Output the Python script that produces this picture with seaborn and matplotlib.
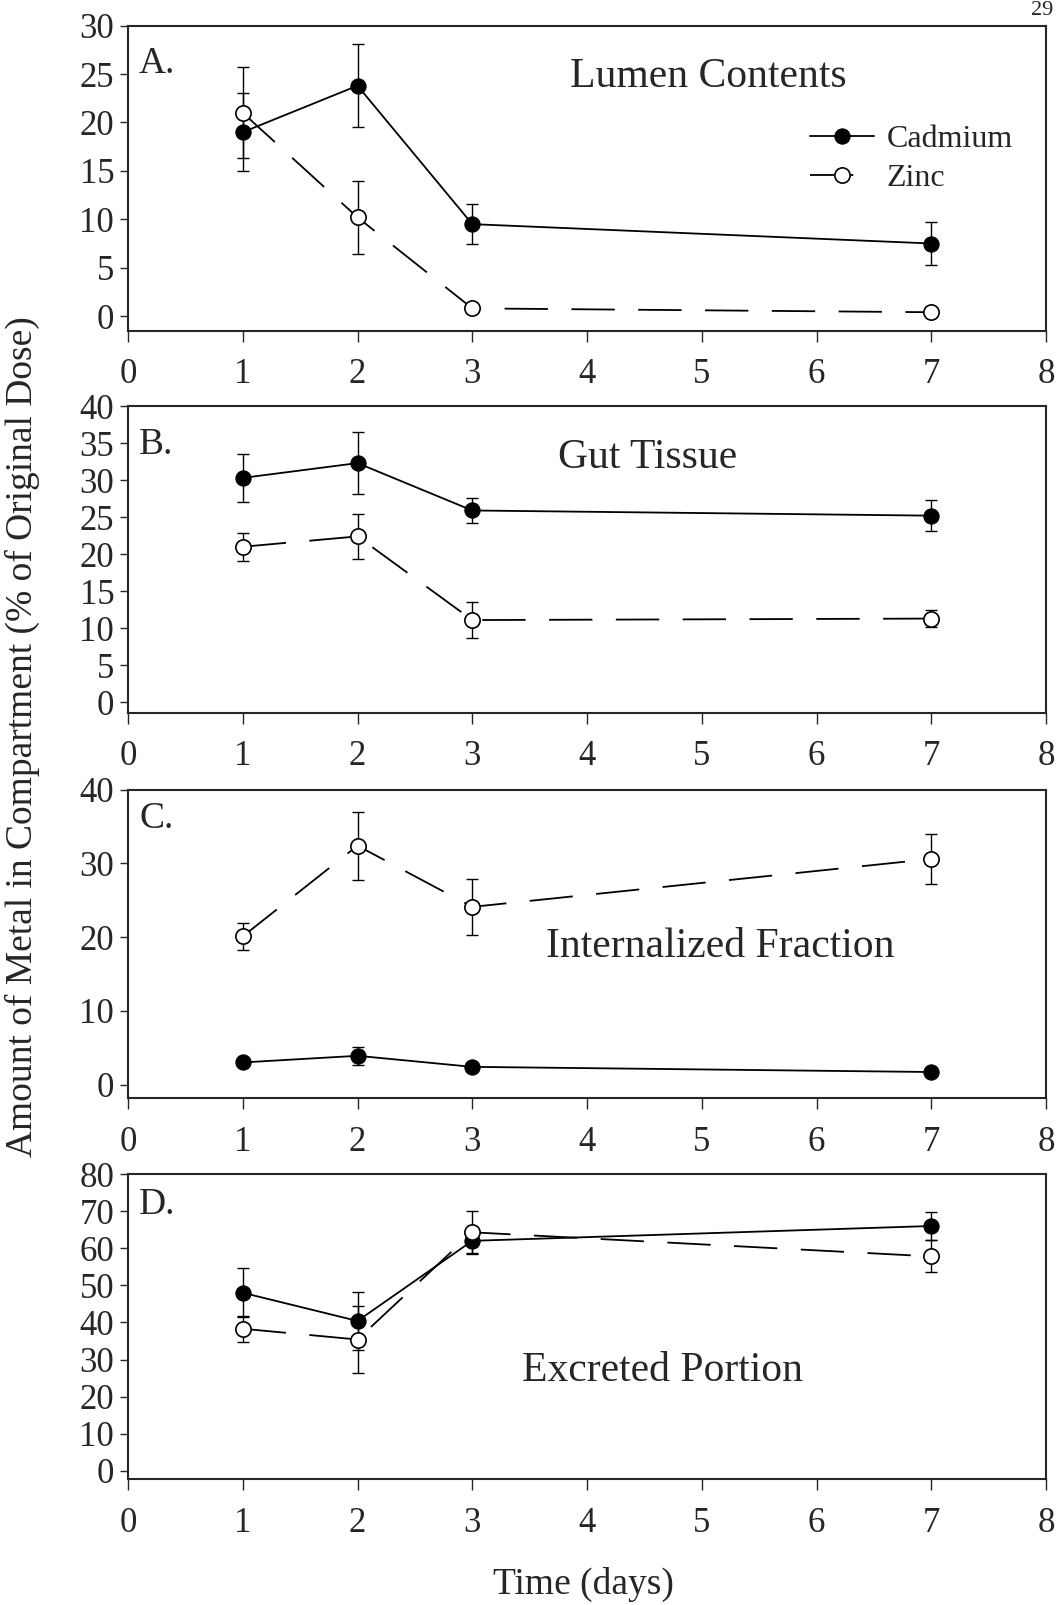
import matplotlib
matplotlib.use("Agg")
import matplotlib.pyplot as plt
import seaborn as sns
import pandas as pd

# values (% of original dose), mean and +/- error
days = [1, 2, 3, 7]

cd_lumen = [19.0, 23.8, 9.5, 7.5]
cd_lumen_err = [4.0, 4.3, 2.1, 2.2]
zn_lumen = [21.0, 10.2, 0.8, 0.4]
zn_lumen_err = [4.7, 3.8, 0.0, 0.0]

cd_gut = [30.3, 32.3, 25.9, 25.2]
cd_gut_err = [3.2, 4.2, 1.7, 2.1]
zn_gut = [21.0, 22.4, 11.1, 11.3]
zn_gut_err = [1.9, 3.0, 2.4, 1.1]

cd_int = [3.0, 3.9, 2.4, 1.7]
cd_int_err = [0.3, 1.2, 0.3, 0.3]
zn_int = [20.1, 32.4, 24.1, 30.6]
zn_int_err = [1.8, 4.6, 3.8, 3.4]

cd_exc = [48.0, 40.4, 62.0, 66.0]
cd_exc_err = [6.6, 7.9, 3.5, 3.8]
zn_exc = [38.3, 35.4, 64.3, 57.8]
zn_exc_err = [3.5, 9.0, 5.7, 4.3]

panels = [
    ("A.", "Lumen Contents", cd_lumen, cd_lumen_err, zn_lumen, zn_lumen_err),
    ("B.", "Gut Tissue", cd_gut, cd_gut_err, zn_gut, zn_gut_err),
    ("C.", "Internalized Fraction", cd_int, cd_int_err, zn_int, zn_int_err),
    ("D.", "Excreted Portion", cd_exc, cd_exc_err, zn_exc, zn_exc_err),
]
y_limits = [(-1.5, 30), (-1.4, 40), (-1.8, 40), (-2.2, 80)]
y_steps = [5, 5, 10, 10]
title_pos = [(0.632, 0.832), (0.566, 0.833), (0.645, 0.49), (0.582, 0.354)]
letter_y = [0.876, 0.873, 0.907, 0.90]
ax_box = [(0.794, 0.190), (0.556, 0.191), (0.316, 0.192), (0.0785, 0.190)]

sns.set_style("ticks")
plt.rcParams["font.family"] = ["Liberation Serif", "DejaVu Serif"]

fig = plt.figure(figsize=(10.58, 16.05), dpi=100)
dash = (0, (24, 13))

for i, (letter, title, cd, cd_err, zn, zn_err) in enumerate(panels):
    bottom, height = ax_box[i]
    ax = fig.add_axes([0.121, bottom, 0.8677, height])

    df = pd.DataFrame({
        "day": days * 2,
        "value": cd + zn,
        "metal": ["Cadmium"] * 4 + ["Zinc"] * 4,
    })

    ax.errorbar(days, cd, yerr=cd_err, fmt="none", ecolor="black",
                elinewidth=1.0, capsize=4, capthick=1.0, zorder=2)
    ax.errorbar(days, zn, yerr=zn_err, fmt="none", ecolor="black",
                elinewidth=1.0, capsize=4, capthick=1.0, zorder=2)

    sns.lineplot(data=df[df.metal == "Cadmium"], x="day", y="value", ax=ax,
                 color="black", lw=1.3, marker="o", markersize=11,
                 markerfacecolor="black", markeredgecolor="black",
                 label="Cadmium", zorder=3)
    sns.lineplot(data=df[df.metal == "Zinc"], x="day", y="value", ax=ax,
                 color="black", lw=1.3, linestyle=dash, marker="o",
                 markersize=11, markerfacecolor="white",
                 markeredgecolor="black", markeredgewidth=1.2,
                 label="Zinc", zorder=4)

    ax.set_xlim(0, 8)
    ax.set_ylim(*y_limits[i])
    ax.set_xticks(range(0, 9))
    ax.set_yticks(range(0, int(y_limits[i][1]) + 1, y_steps[i]))
    ax.set_xlabel("")
    ax.set_ylabel("")
    ax.tick_params(axis="x", direction="out", length=8, width=1.0, pad=12,
                   labelsize=25)
    ax.tick_params(axis="y", direction="out", length=6, width=1.0, pad=4,
                   labelsize=25)
    for side in ["top", "bottom", "left", "right"]:
        ax.spines[side].set_linewidth(1.5)

    ax.text(0.012, letter_y[i], letter, transform=ax.transAxes,
            fontsize=27, va="center", ha="left")
    ax.text(title_pos[i][0], title_pos[i][1], title, transform=ax.transAxes,
            fontsize=30, va="center", ha="center")

    if i == 0:
        ax.legend(loc="upper right", bbox_to_anchor=(0.995, 0.77),
                  frameon=False, fontsize=23, handlelength=2.0,
                  handletextpad=0.4, labelspacing=0.3)
    else:
        ax.get_legend().remove()

fig.text(0.021, 0.541, "Amount of Metal in Compartment (% of Original Dose)",
         rotation=90, va="center", ha="center", fontsize=27)
fig.text(0.551, 0.013, "Time (days)", va="center", ha="center", fontsize=27)
fig.text(0.985, 0.9995, "29", va="top", ha="center", fontsize=16)

fig.savefig("out.png", dpi=100)
plt.close(fig)
